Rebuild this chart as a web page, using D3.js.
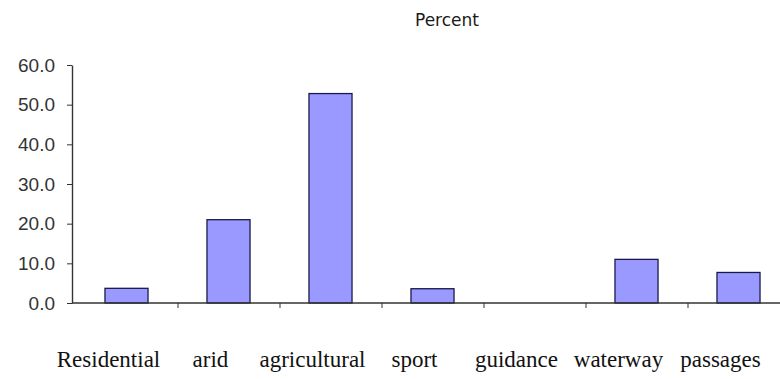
<!DOCTYPE html>
<html>
<head>
<meta charset="utf-8">
<script src="https://cdn.jsdelivr.net/npm/d3@7"></script>
<style>
  body { margin: 0; background: #fff; }
  svg { display: block; }
</style>
</head>
<body>
<svg width="780" height="379"></svg>
<script>
var categories = ["Residential", "arid", "agricultural", "sport", "guidance", "waterway", "passages"];
var percent = [3.7, 21.0, 52.8, 3.6, 0, 11.0, 7.7];
var yTicks = [0, 10, 20, 30, 40, 50, 60];

var svg = d3.select("svg");
var axisX = 72, bandStart = 75.5, plotTop = 65, plotBottom = 303, bandW = 102;

var x = d3.scaleBand()
    .domain(categories)
    .range([bandStart, bandStart + bandW * categories.length])
    .paddingInner(0.578)
    .paddingOuter(0.289);
var y = d3.scaleLinear().domain([0, 60]).range([plotBottom, plotTop]);

// title
svg.append("text")
  .attr("x", 447).attr("y", 26)
  .attr("text-anchor", "middle")
  .attr("font-family", "DejaVu Sans, sans-serif")
  .attr("font-size", "17px")
  .attr("fill", "#1a1a1a")
  .text("Percent");

// y axis
var yAxis = svg.append("g")
  .attr("transform", "translate(" + axisX + ",0)")
  .call(d3.axisLeft(y).tickValues(yTicks).tickFormat(d3.format(".1f")).tickSize(5).tickSizeOuter(0));
yAxis.select(".domain").attr("stroke", "#333").attr("stroke-width", 1.4);
yAxis.selectAll(".tick line").attr("stroke", "#333");
yAxis.selectAll("text")
  .attr("font-family", "Liberation Sans, Arial, sans-serif")
  .attr("font-size", "19px")
  .attr("fill", "#333")
  .attr("x", -17);

// bars
svg.selectAll(".bar")
  .data(percent)
  .enter().append("rect")
  .attr("class", "bar")
  .attr("x", function(d, i) { return x(categories[i]); })
  .attr("y", function(d) { return y(d); })
  .attr("width", x.bandwidth())
  .attr("height", function(d) { return plotBottom - y(d); })
  .attr("fill", "#9999ff")
  .attr("stroke", "#1a1a4a")
  .attr("stroke-width", 1.3)
  .style("display", function(d) { return d > 0 ? null : "none"; });

// x axis line and ticks at band boundaries
svg.append("line")
  .attr("x1", axisX).attr("x2", 780)
  .attr("y1", plotBottom).attr("y2", plotBottom)
  .attr("stroke", "#333").attr("stroke-width", 1.4);
svg.selectAll(".xtick")
  .data(categories.slice(1))
  .enter().append("line")
  .attr("class", "xtick")
  .attr("x1", function(d) { return x(d) - x.step() * x.paddingInner() / 2 + 0.5; })
  .attr("x2", function(d) { return x(d) - x.step() * x.paddingInner() / 2 + 0.5; })
  .attr("y1", plotBottom).attr("y2", plotBottom + 5)
  .attr("stroke", "#333");

// category labels
svg.selectAll(".xlabel")
  .data(categories)
  .enter().append("text")
  .attr("class", "xlabel")
  .attr("x", function(d) { return x(d) + x.bandwidth() / 2 - 18; })
  .attr("y", 367)
  .attr("text-anchor", "middle")
  .attr("font-family", "Liberation Serif, Times New Roman, serif")
  .attr("font-size", "23px")
  .attr("fill", "#111")
  .text(function(d) { return d; });
</script>
</body>
</html>
